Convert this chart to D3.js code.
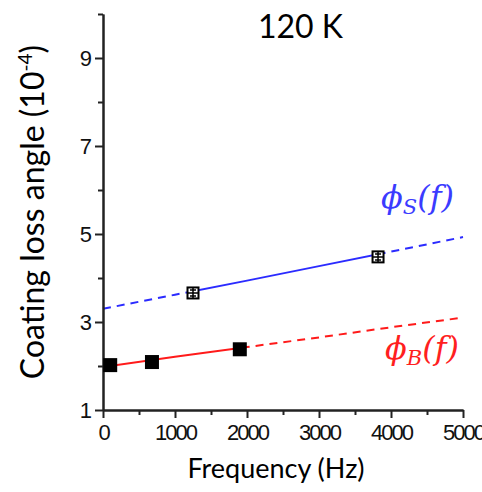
<!DOCTYPE html>
<html>
<head>
<meta charset="utf-8">
<script src="https://cdn.jsdelivr.net/npm/d3@7"></script>
<style>
body { margin: 0; background: #fff; }
</style>
</head>
<body>
<div id="chart"></div>
<script>
// bulk (phi_B) measured points, filled squares
var bulkFreq = [100, 680, 1900];
var bulkLoss = [2.02, 2.09, 2.38];
// shear (phi_S) measured points, open squares
var shearFreq = [1250, 3820];
var shearLoss = [3.66, 4.48];
// fitted curves
var fitFreq = [0, 1000, 2000, 3000, 4000, 5000];
var shearFit = [3.30, 3.62, 3.94, 4.27, 4.60, 4.93];
var bulkFit = [1.98, 2.21, 2.43, 2.65, 2.88, 3.10];
var xTicks = [0, 1000, 2000, 3000, 4000, 5000];
var xMinor = [500, 1500, 2500, 3500, 4500];
var yTicks = [1, 3, 5, 7, 9];
var yMinor = [2, 4, 6, 8, 10];

var width = 482;
var height = 492;
var blue = '#2b2bff';
var red = '#ff1a1a';

var x = d3.scaleLinear().domain([0, 5000]).range([103, 463]);
var y = d3.scaleLinear().domain([1, 10]).range([410, 14]);

var svg = d3.select('#chart')
	.append('svg')
	.attr('width', width)
	.attr('height', height);

var defs = svg.append('defs');

function clipRect(id, x0, x1) {
	defs.append('clipPath').attr('id', id)
		.append('rect')
		.attr('x', x0).attr('y', 0)
		.attr('width', x1 - x0).attr('height', height);
}
clipRect('sIn', x(shearFreq[0]), x(shearFreq[1]));
clipRect('bIn', x(bulkFreq[0]), x(bulkFreq[2]));
clipRect('sOutL', 0, x(shearFreq[0]));
clipRect('sOutR', x(shearFreq[1]), width);
clipRect('bOutR', x(bulkFreq[2]), width);

var line = d3.line()
	.x((d) => x(d[0]))
	.y((d) => y(d[1]));

function fitLine(vals, color, clip, dashed) {
	svg.append('path')
		.datum(d3.zip(fitFreq, vals))
		.attr('d', line)
		.attr('fill', 'none')
		.attr('stroke', color)
		.attr('stroke-width', 2)
		.attr('stroke-dasharray', dashed ? '8,6' : null)
		.attr('clip-path', 'url(#' + clip + ')');
}
fitLine(shearFit, blue, 'sOutL', true);
fitLine(shearFit, blue, 'sOutR', true);
fitLine(shearFit, blue, 'sIn', false);
fitLine(bulkFit, red, 'bOutR', true);
fitLine(bulkFit, red, 'bIn', false);

// axes
var axisColor = '#222';
var xAxis = svg.append('g')
	.attr('transform', 'translate(0,' + y(1) + ')')
	.call(d3.axisBottom(x).tickValues(xTicks).tickFormat(d3.format('d'))
		.tickSize(8).tickPadding(6).tickSizeOuter(0));
svg.append('g')
	.attr('transform', 'translate(0,' + y(1) + ')')
	.call(d3.axisBottom(x).tickValues(xMinor).tickSize(5).tickFormat('').tickSizeOuter(0));
var yAxis = svg.append('g')
	.attr('transform', 'translate(' + x(0) + ',0)')
	.call(d3.axisLeft(y).tickValues(yTicks).tickFormat(d3.format('d'))
		.tickSize(8).tickPadding(5).tickSizeOuter(0));
svg.append('g')
	.attr('transform', 'translate(' + x(0) + ',0)')
	.call(d3.axisLeft(y).tickValues(yMinor).tickSize(5).tickFormat('').tickSizeOuter(0));

[xAxis, yAxis].forEach((g) => {
	g.attr('font-family', '"Liberation Sans", Arial, sans-serif')
		.attr('font-size', 22);
});
svg.selectAll('.domain').attr('stroke', axisColor).attr('stroke-width', 2);
svg.selectAll('.tick line').attr('stroke', axisColor).attr('stroke-width', 2);
svg.selectAll('.tick text')
	.attr('fill', '#111')
	.attr('letter-spacing', '-2');
yAxis.selectAll('.tick text').attr('dy', '0.36em');

// bulk points: filled black squares
var sq = 14;
svg.selectAll('.bulk')
	.data(d3.zip(bulkFreq, bulkLoss))
	.enter()
	.append('rect')
	.attr('x', (d) => x(d[0]) - sq / 2)
	.attr('y', (d) => y(d[1]) - sq / 2)
	.attr('width', sq)
	.attr('height', sq)
	.attr('fill', '#000');

// shear points: open squares with error bars
var so = 11;
var shear = svg.selectAll('.shear')
	.data(d3.zip(shearFreq, shearLoss))
	.enter()
	.append('g')
	.attr('transform', (d) => 'translate(' + x(d[0]) + ',' + y(d[1]) + ')');
shear.append('rect')
	.attr('x', -so / 2).attr('y', -so / 2)
	.attr('width', so).attr('height', so)
	.attr('fill', '#fff')
	.attr('stroke', '#000')
	.attr('stroke-width', 2);
shear.append('path')
	.attr('d', 'M-5,0H5M0,-5V5M-3,-3H3M-3,3H3')
	.attr('stroke', '#000')
	.attr('stroke-width', 1.5)
	.attr('fill', 'none');

// texts
var sans = 'Lato, "Open Sans", sans-serif';
svg.append('text')
	.attr('x', 258).attr('y', 38)
	.style('font-family', sans)
	.style('font-size', '32px')
	.attr('fill', '#000')
	.text('120 K');

svg.append('text')
	.attr('x', 276).attr('y', 478)
	.attr('text-anchor', 'middle')
	.style('font-family', sans)
	.style('font-size', '27px')
	.attr('fill', '#000')
	.text('Frequency (Hz)');

var yl = svg.append('text')
	.attr('transform', 'translate(44,212) rotate(-90)')
	.attr('text-anchor', 'middle')
	.style('font-family', sans)
	.style('font-size', '32px')
	.attr('fill', '#000');
yl.append('tspan').text('Coating loss angle (10');
yl.append('tspan').attr('dy', -12).style('font-size', '19px').text('-4');
yl.append('tspan').attr('dy', 12).text(')');

function phiLabel(px, py, sub, color) {
	var t = svg.append('text')
		.attr('x', px).attr('y', py)
		.style('font-family', '"DejaVu Serif", serif')
		.style('font-style', 'italic')
		.style('font-size', '32px')
		.attr('fill', color);
	t.append('tspan').text('\u03D5');
	t.append('tspan').attr('dy', 6).style('font-size', '21px').text(sub);
	t.append('tspan').attr('dy', -6).text('(f)');
}
phiLabel(381, 208, 'S', '#3b3bff');
phiLabel(385, 359, 'B', '#ff1f1f');
</script>
</body>
</html>
